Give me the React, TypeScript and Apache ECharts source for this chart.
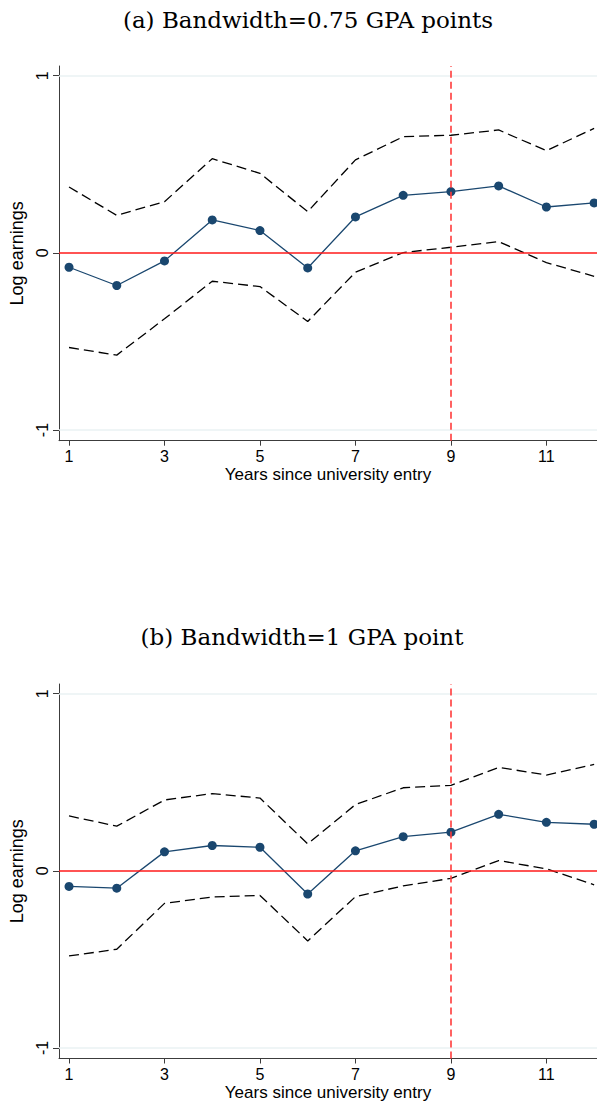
import React, { useEffect, useRef } from "react";
import * as echarts from "echarts";

const years = [1, 2, 3, 4, 5, 6, 7, 8, 9, 10, 11, 12];
const xTicks = [1, 3, 5, 7, 9, 11];
const yTicks = [-1, 0, 1];

const titleA = "(a) Bandwidth=0.75 GPA points";
const titleB = "(b) Bandwidth=1 GPA point";
const xTitle = "Years since university entry";
const yTitle = "Log earnings";

const pointA = [-0.081, -0.184, -0.045, 0.186, 0.126, -0.085, 0.203, 0.325, 0.346, 0.378, 0.259, 0.282];
const upperA = [0.372, 0.212, 0.289, 0.532, 0.449, 0.233, 0.525, 0.656, 0.664, 0.694, 0.577, 0.703];
const lowerA = [-0.534, -0.577, -0.372, -0.16, -0.19, -0.387, -0.109, 0.002, 0.032, 0.064, -0.055, -0.132];

const pointB = [-0.088, -0.098, 0.107, 0.143, 0.133, -0.131, 0.113, 0.193, 0.218, 0.319, 0.274, 0.263];
const upperB = [0.31, 0.252, 0.4, 0.436, 0.411, 0.152, 0.374, 0.469, 0.483, 0.584, 0.541, 0.601];
const lowerB = [-0.481, -0.443, -0.184, -0.148, -0.139, -0.396, -0.146, -0.085, -0.043, 0.058, 0.011, -0.079];

const cutoffYear = 9;

const NAVY = "#1a476f";
const SANS = "Liberation Sans, Arial, sans-serif";
const SERIF = "DejaVu Serif, serif";

function pairs(vals: number[]) {
  return years.map((y, i) => [y, vals[i]]);
}

function makeAxes(gi: number) {
  const xAxis = {
    type: "value",
    gridIndex: gi,
    min: 0.79,
    max: 12.06,
    name: xTitle,
    nameLocation: "middle",
    nameGap: 25,
    nameTextStyle: { fontFamily: SANS, fontSize: 17, color: "#000" },
    axisLine: { show: true, onZero: false, lineStyle: { color: "#3c3c3c", width: 1 } },
    axisTick: { show: true, length: 5, customValues: xTicks, lineStyle: { color: "#3c3c3c" } },
    axisLabel: { customValues: xTicks, margin: 8, fontFamily: SANS, fontSize: 16, color: "#000" },
    splitLine: { show: false },
  };
  const yAxis = {
    type: "value",
    gridIndex: gi,
    min: -1.06,
    max: 1.055,
    name: yTitle,
    nameLocation: "middle",
    nameGap: 28,
    nameRotate: 90,
    nameTextStyle: { fontFamily: SANS, fontSize: 18, color: "#000" },
    axisLine: { show: true, onZero: false, lineStyle: { color: "#3c3c3c", width: 1 } },
    axisTick: { show: true, length: 6, customValues: yTicks, lineStyle: { color: "#3c3c3c" } },
    axisLabel: { customValues: yTicks, rotate: 90, margin: 9, fontFamily: SANS, fontSize: 16, color: "#000" },
    splitLine: { show: false },
  };
  return { xAxis, yAxis };
}

function makeSeries(gi: number, point: number[], upper: number[], lower: number[]) {
  return [
    {
      type: "line",
      xAxisIndex: gi,
      yAxisIndex: gi,
      data: [],
      silent: true,
      z: 1,
      markLine: {
        silent: true,
        symbol: "none",
        label: { show: false },
        data: [
          { yAxis: 1, lineStyle: { color: "#eaf2f3", width: 1.5, type: "solid" } },
          { yAxis: -1, lineStyle: { color: "#eaf2f3", width: 1.5, type: "solid" } },
          { yAxis: 0, lineStyle: { color: "#ff1a1a", width: 1.5, type: "solid" } },
        ],
      },
    },
    {
      type: "line",
      xAxisIndex: gi,
      yAxisIndex: gi,
      data: pairs(upper),
      symbol: "none",
      z: 2,
      lineStyle: { color: "#000", width: 1.3, type: [10, 5] },
    },
    {
      type: "line",
      xAxisIndex: gi,
      yAxisIndex: gi,
      data: pairs(lower),
      symbol: "none",
      z: 2,
      lineStyle: { color: "#000", width: 1.3, type: [10, 5] },
    },
    {
      type: "line",
      xAxisIndex: gi,
      yAxisIndex: gi,
      data: pairs(point),
      symbol: "circle",
      symbolSize: 9,
      z: 3,
      itemStyle: { color: NAVY },
      lineStyle: { color: NAVY, width: 1.3 },
      markLine: {
        silent: true,
        symbol: "none",
        label: { show: false },
        data: [{ xAxis: cutoffYear, lineStyle: { color: "#ff3b3b", width: 1.6, type: [7, 4] } }],
      },
    },
  ];
}

export default function App() {
  const ref = useRef<HTMLDivElement>(null);
  useEffect(() => {
    if (!ref.current) return;
    const chart = echarts.init(ref.current, undefined, { renderer: "svg" });
    const a = makeAxes(0);
    const b = makeAxes(1);
    const titleStyle = { fontFamily: SERIF, fontSize: 23, fill: "#000", align: "center", verticalAlign: "middle" };
    chart.setOption({
      animation: false,
      backgroundColor: "#fff",
      graphic: [
        { type: "text", x: 308, y: 20, style: { ...titleStyle, text: titleA } },
        { type: "text", x: 302, y: 637, style: { ...titleStyle, text: titleB } },
      ],
      grid: [
        { left: 59, top: 66, width: 538, height: 374.7 },
        { left: 59, top: 684, width: 538, height: 374.5 },
      ],
      xAxis: [a.xAxis, b.xAxis],
      yAxis: [a.yAxis, b.yAxis],
      series: [...makeSeries(0, pointA, upperA, lowerA), ...makeSeries(1, pointB, upperB, lowerB)],
    });
    return () => chart.dispose();
  }, []);
  return (
    <div
      ref={ref}
      style={{ position: "fixed", left: 0, top: 0, width: 597, height: 1103, background: "#fff" }}
    />
  );
}
